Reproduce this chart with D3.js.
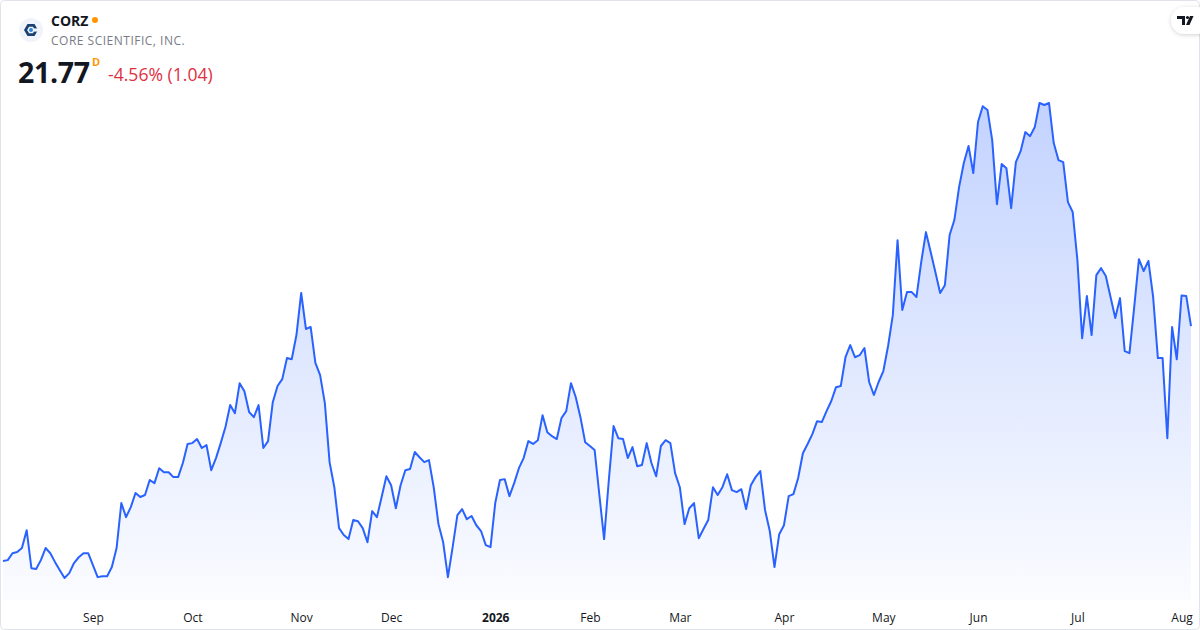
<!DOCTYPE html>
<html>
<head>
<meta charset="utf-8">
<script src="https://cdn.jsdelivr.net/npm/d3@7/dist/d3.min.js"></script>
<style>
  html, body { margin: 0; padding: 0; background: #fff; }
  svg { display: block; font-family: "Open Sans", "Noto Sans", sans-serif; }
</style>
</head>
<body>
<svg id="chart" width="1200" height="630"></svg>
<script>
// ---- data ----
const symbol = "CORZ";
const companyName = "CORE SCIENTIFIC, INC.";
const lastPrice = "21.77";
const changeText = "-4.56% (1.04)";
const startDate = "2025-08-05";
const holidays = ["2025-09-01","2025-11-27","2025-12-25","2026-01-01","2026-01-19",
                  "2026-02-16","2026-04-03","2026-05-25","2026-06-19","2026-07-03"];
const closes = [
 13.62,13.65,13.89,13.93,14.07,14.69,13.37,13.34,13.65,14.07,
 13.89,13.58,13.30,13.03,13.20,13.55,13.75,13.89,13.89,13.48,
 13.06,13.09,13.09,13.41,14.07,15.63,15.14,15.49,15.98,15.84,
 15.91,16.43,16.32,16.84,16.70,16.70,16.53,16.53,17.02,17.68,
 17.71,17.85,17.54,17.64,16.77,17.19,17.71,18.27,19.03,18.75,
 19.79,19.51,18.79,18.61,19.03,17.54,17.78,19.13,19.69,19.93,
 20.66,20.62,21.46,22.92,21.67,21.74,20.49,20.07,19.10,17.05,
 16.18,14.76,14.52,14.38,15.04,15.00,14.76,14.27,15.35,15.14,
 15.84,16.56,16.25,15.45,16.25,16.77,16.81,17.40,17.22,17.05,
 17.12,16.18,14.90,14.27,13.06,14.10,15.21,15.42,15.07,15.18,
 14.86,14.66,14.17,14.10,15.63,16.43,16.46,15.87,16.32,16.84,
 17.19,17.78,17.68,17.81,18.68,18.09,17.95,17.85,18.58,18.82,
 19.79,19.31,18.61,17.74,17.61,17.47,15.91,14.38,16.43,18.30,
 17.88,17.85,17.19,17.57,16.91,16.95,17.71,17.02,16.56,17.61,
 17.81,17.71,16.67,16.18,14.90,15.45,15.63,14.41,14.73,15.04,
 16.18,15.91,16.18,16.63,16.08,16.01,16.11,15.42,16.25,16.53,
 16.74,15.39,14.66,13.41,14.55,14.86,15.87,15.94,16.50,17.36,
 17.68,18.02,18.47,18.44,18.82,19.17,19.65,19.69,20.69,21.11,
 20.69,20.76,21.01,19.83,19.38,19.83,20.21,21.08,22.15,24.75,
 22.33,22.95,22.95,22.78,23.99,25.03,24.34,23.64,22.92,23.19,
 24.93,25.45,26.59,27.43,28.02,27.08,28.85,29.40,29.27,28.22,
 26.00,27.39,27.25,25.86,27.46,27.84,28.50,28.36,28.68,29.51,
 29.44,29.51,28.12,27.53,27.46,26.07,25.73,24.06,21.35,22.81,
 21.46,23.54,23.78,23.51,22.78,22.05,22.74,20.90,20.83,22.43,
 24.09,23.68,24.03,22.78,20.66,20.66,17.88,21.74,20.62,22.83,
 22.81,21.77
];
const monthLabels = ["Sep","Oct","Nov","Dec","2026","Feb","Mar","Apr","May","Jun","Jul","Aug"];

// ---- build trading days ----
const fmt = d3.utcFormat("%Y-%m-%d");
const hol = new Set(holidays);
const dates = [];
let d = new Date(startDate + "T00:00:00Z");
while (dates.length < closes.length) {
  const wd = d.getUTCDay();
  if (wd !== 0 && wd !== 6 && !hol.has(fmt(d))) dates.push(new Date(d));
  d = d3.utcDay.offset(d, 1);
}
const data = closes.map((c, i) => ({ i, date: dates[i], close: c }));

// month start indices
const monthStarts = [];
for (let i = 1; i < dates.length; i++) {
  if (dates[i].getUTCMonth() !== dates[i - 1].getUTCMonth()) monthStarts.push(i);
}

const svg = d3.select("#chart");
const W = 1200, H = 630;

const x = d3.scaleLinear().domain([0, closes.length - 1]).range([3, 1191]);
const y = d3.scaleLinear().domain(d3.extent(closes)).range([578, 103]);

// border
svg.append("rect").attr("x", 0.5).attr("y", 0.5).attr("width", W - 1).attr("height", H - 1)
  .attr("rx", 4).attr("fill", "#fff").attr("stroke", "#e0e3eb");

// gradient
const defs = svg.append("defs");
const grad = defs.append("linearGradient").attr("id", "areaGrad")
  .attr("gradientUnits", "userSpaceOnUse").attr("x1", 0).attr("x2", 0)
  .attr("y1", y(d3.max(closes))).attr("y2", 600);
grad.append("stop").attr("offset", "0%").attr("stop-color", "#2962ff").attr("stop-opacity", 0.28);
grad.append("stop").attr("offset", "100%").attr("stop-color", "#2962ff").attr("stop-opacity", 0.02);
const sh = defs.append("filter").attr("id", "shadow").attr("x", "-50%").attr("y", "-50%")
  .attr("width", "200%").attr("height", "200%");
sh.append("feDropShadow").attr("dx", 0).attr("dy", 1).attr("stdDeviation", 2)
  .attr("flood-color", "#000").attr("flood-opacity", 0.18);

const area = d3.area().x(p => x(p.i)).y0(600).y1(p => y(p.close));
const line = d3.line().x(p => x(p.i)).y(p => y(p.close));

svg.append("path").datum(data).attr("d", area).attr("fill", "url(#areaGrad)");
svg.append("path").datum(data).attr("d", line).attr("fill", "none")
  .attr("stroke", "#2962ff").attr("stroke-width", 2).attr("stroke-linejoin", "round");

// x axis labels (last tick is the first trading day of Aug)
const xAxis = d3.axisBottom(x)
  .tickValues(monthStarts)
  .tickFormat((v, k) => monthLabels[k])
  .tickSize(0).tickPadding(0);
const axisG = svg.append("g").attr("transform", "translate(0,613)").call(xAxis);
axisG.select(".domain").remove();
axisG.selectAll("text").attr("font-size", 12).attr("fill", "#131722")
  .attr("font-family", "'Open Sans', sans-serif")
  .attr("font-weight", (v, k) => monthLabels[k] === "2026" ? 700 : 400);

// header
const logo = svg.append("g").attr("transform", "translate(31,30)");
logo.append("circle").attr("r", 12).attr("fill", "#f0f3fa");
const hex = d3.range(6).map(k => {
  const a = Math.PI / 3 * k;
  return [7 * Math.cos(a), 7 * Math.sin(a)];
});
logo.append("path").attr("d", d3.line()(hex) + "Z").attr("fill", "#1c3f73");
logo.append("path").attr("d", d3.line()(hex.map(p => [p[0] * 0.55, p[1] * 0.55])) + "Z").attr("fill", "#f0f3fa");
logo.append("rect").attr("x", 2).attr("y", -1.6).attr("width", 6).attr("height", 3.2).attr("fill", "#f0f3fa");
logo.append("circle").attr("r", 2).attr("fill", "#2f86d6");

svg.append("text").attr("x", 51).attr("y", 26).text(symbol)
  .attr("font-size", 14).attr("font-weight", 700).attr("fill", "#131722");
svg.append("circle").attr("cx", 95).attr("cy", 20).attr("r", 3).attr("fill", "#ff9800");
svg.append("text").attr("x", 51).attr("y", 45).text(companyName)
  .attr("font-size", 12).attr("fill", "#787b86").attr("letter-spacing", 0.5);
svg.append("text").attr("x", 18).attr("y", 83).text(lastPrice)
  .attr("font-size", 28.5).attr("font-weight", 700).attr("fill", "#131722").attr("letter-spacing", -0.3);
svg.append("text").attr("x", 92).attr("y", 66).text("D")
  .attr("font-size", 11).attr("font-weight", 700).attr("fill", "#ff9800");
svg.append("text").attr("x", 108).attr("y", 81).text(changeText)
  .attr("font-size", 17.6).attr("fill", "#e0303f");

// TV logo pill
const tv = svg.append("g");
tv.append("rect").attr("x", 1171).attr("y", 7).attr("width", 40).attr("height", 27).attr("rx", 13.5)
  .attr("fill", "#fff").attr("filter", "url(#shadow)");
tv.append("path").attr("d", "M1177,16 h8 v9 h-3 v-6 h-5 z").attr("fill", "#131722");
tv.append("circle").attr("cx", 1187.5).attr("cy", 17.5).attr("r", 1.6).attr("fill", "#131722");
tv.append("path").attr("d", "M1190,16 h3.5 l-4,9 h-3.5 z").attr("fill", "#131722");
</script>
</body>
</html>
